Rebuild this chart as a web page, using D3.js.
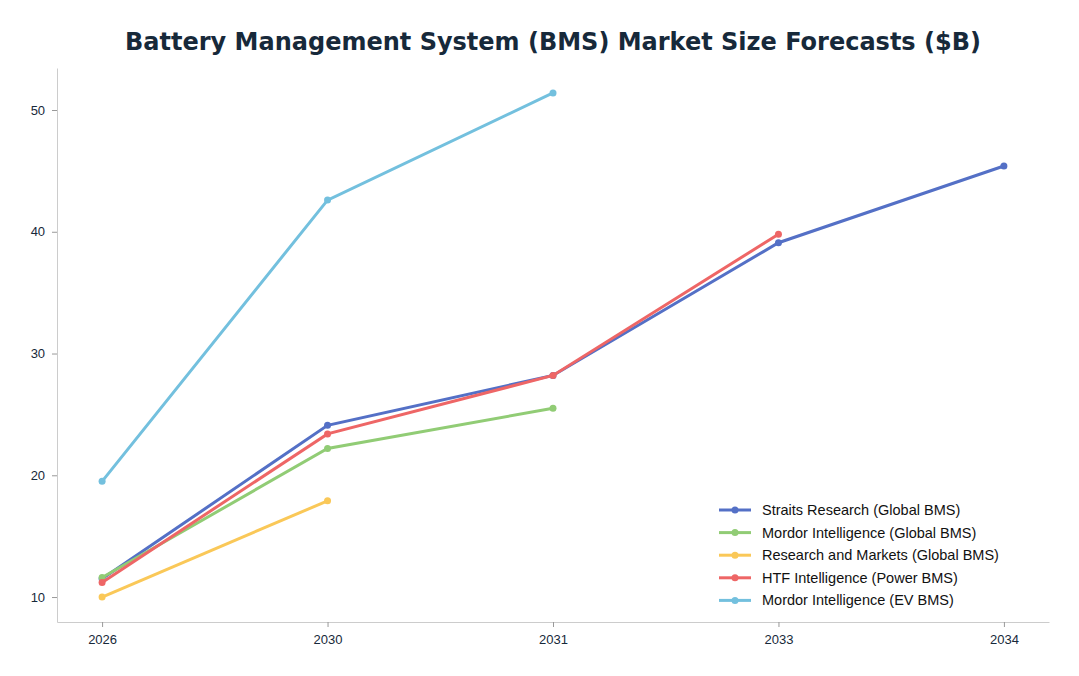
<!DOCTYPE html>
<html>
<head>
<meta charset="utf-8">
<script src="https://cdn.jsdelivr.net/npm/d3@7"></script>
<style>
  body { margin: 0; background: #fff; font-family: "DejaVu Sans", sans-serif; }
</style>
</head>
<body>
<svg id="chart" width="1079" height="676"></svg>
<script>
// chart data
const years = ["2026", "2030", "2031", "2033", "2034"];
const straits = [11.5, 24.1, 28.2, 39.1, 45.4];
const mordorGlobal = [11.6, 22.2, 25.5, null, null];
const researchMarkets = [10.0, 17.9, null, null, null];
const htf = [11.2, 23.4, 28.2, 39.8, null];
const mordorEV = [19.5, 42.6, 51.4, null, null];
const yTicks = [10, 20, 30, 40, 50];

const series = [
  { name: "Straits Research (Global BMS)", values: straits, color: "#5470c6" },
  { name: "Mordor Intelligence (Global BMS)", values: mordorGlobal, color: "#91cc75" },
  { name: "Research and Markets (Global BMS)", values: researchMarkets, color: "#fac858" },
  { name: "HTF Intelligence (Power BMS)", values: htf, color: "#ee6666" },
  { name: "Mordor Intelligence (EV BMS)", values: mordorEV, color: "#73c0de" }
];

const svg = d3.select("#chart");
const margin = { top: 68, right: 30, bottom: 54, left: 57 };
const width = 1079, height = 676;

svg.append("text")
  .attr("x", 553).attr("y", 50)
  .attr("text-anchor", "middle")
  .attr("font-size", "24px").attr("font-weight", "bold")
  .attr("fill", "#17293a")
  .text("Battery Management System (BMS) Market Size Forecasts ($B)");

const x = d3.scalePoint()
  .domain(years)
  .range([margin.left, width - margin.right])
  .padding(0.2);

const y = d3.scaleLinear()
  .domain([7.95, 53.45])
  .range([height - margin.bottom, margin.top]);

// axes
svg.append("g")
  .attr("transform", `translate(0,${height - margin.bottom})`)
  .call(d3.axisBottom(x).tickSize(5).tickSizeOuter(0))
  .call(g => g.select(".domain").attr("stroke", "#ccc"))
  .call(g => g.selectAll(".tick line").attr("stroke", "#999"))
  .call(g => g.selectAll(".tick text").attr("fill", "#17293a").attr("font-size", "13px").attr("dy", "1.1em"));

svg.append("g")
  .attr("transform", `translate(${margin.left},0)`)
  .call(d3.axisLeft(y).tickValues(yTicks).tickSize(5).tickSizeOuter(0))
  .call(g => g.select(".domain").attr("stroke", "#ccc"))
  .call(g => g.selectAll(".tick line").attr("stroke", "#999"))
  .call(g => g.selectAll(".tick text").attr("fill", "#17293a").attr("font-size", "13px").attr("dx", "-0.3em"));

const line = d3.line()
  .defined(d => d[1] != null)
  .x(d => x(d[0]))
  .y(d => y(d[1]));

series.forEach(s => {
  const pts = years.map((yr, i) => [yr, s.values[i]]).filter(d => d[1] != null);
  svg.append("path")
    .datum(pts)
    .attr("fill", "none")
    .attr("stroke", s.color)
    .attr("stroke-width", 3)
    .attr("d", line);
  svg.selectAll(null)
    .data(pts)
    .enter().append("circle")
    .attr("cx", d => x(d[0]))
    .attr("cy", d => y(d[1]))
    .attr("r", 3.5)
    .attr("fill", s.color);
});

// legend
const legend = svg.append("g").attr("transform", "translate(719,510)");
series.forEach((s, i) => {
  const g = legend.append("g").attr("transform", `translate(0,${i * 22.6})`);
  g.append("line").attr("x1", 0).attr("x2", 32).attr("stroke", s.color).attr("stroke-width", 3);
  g.append("circle").attr("cx", 16).attr("r", 3.5).attr("fill", s.color);
  g.append("text").attr("x", 43).attr("dy", "0.35em")
    .attr("font-size", "14.5px").attr("fill", "#111")
    .attr("font-family", "'Liberation Sans', Arial, sans-serif")
    .text(s.name);
});
</script>
</body>
</html>
